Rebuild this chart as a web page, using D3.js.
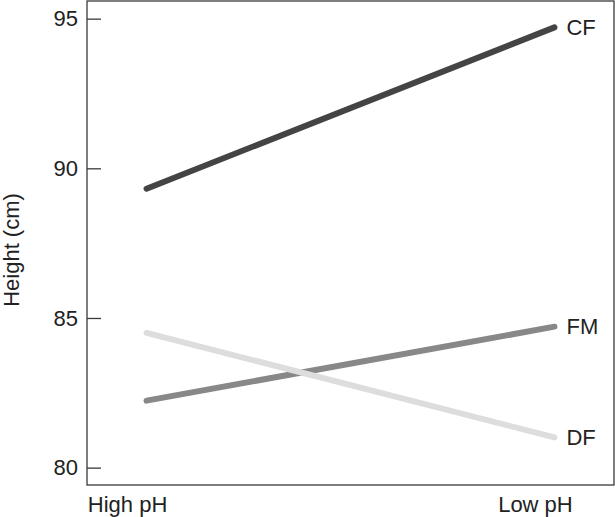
<!DOCTYPE html>
<html>
<head>
<meta charset="utf-8">
<script src="https://cdn.jsdelivr.net/npm/d3@7"></script>
<style>
  body { margin: 0; background: #fff; }
  svg { display: block; font-family: "Liberation Sans", Arial, sans-serif; }
</style>
</head>
<body>
<svg id="chart" width="615" height="517"></svg>
<script>
const conditions = ["High pH", "Low pH"];
const seriesNames = ["CF", "FM", "DF"];
const cfValues = [89.32, 94.71];
const fmValues = [82.24, 84.71];
const dfValues = [84.5, 81.01];
const yTicks = [80, 85, 90, 95];
const seriesColors = ["#444444", "#888888", "#dddddd"];

const series = [cfValues, fmValues, dfValues].map((values, i) => ({
    name: seriesNames[i],
    color: seriesColors[i],
    points: values.map((v, j) => ({cond: conditions[j], value: v}))
}));

const svg = d3.select("#chart");
const plotLeft = 87, plotRight = 614, plotTop = 1, plotBottom = 485;

const x = d3.scalePoint()
    .domain(conditions)
    .range([plotLeft, plotRight])
    .padding(0.146);

const y = d3.scaleLinear()
    .domain([79.42, 95.59])
    .range([plotBottom, plotTop]);

// frame
svg.append("rect")
    .attr("x", plotLeft)
    .attr("y", plotTop)
    .attr("width", plotRight - plotLeft)
    .attr("height", plotBottom - plotTop)
    .attr("fill", "none")
    .attr("stroke", "#3a3a3a")
    .attr("stroke-width", 1.3);

// y axis, ticks pointing inward
const yAxis = d3.axisRight(y)
    .tickValues(yTicks)
    .tickSize(14)
    .tickFormat(d3.format("d"));

const yg = svg.append("g")
    .attr("transform", `translate(${plotLeft},0)`)
    .call(yAxis);
yg.select(".domain").remove();
yg.selectAll(".tick line").attr("stroke", "#3a3a3a").attr("stroke-width", 1.3);
yg.selectAll(".tick text")
    .attr("x", -9)
    .attr("text-anchor", "end")
    .attr("fill", "#222")
    .style("font-size", "22px");

// y axis title
svg.append("text")
    .attr("transform", `translate(19, 250) rotate(-90)`)
    .attr("text-anchor", "middle")
    .attr("fill", "#222")
    .style("font-size", "22px")
    .text("Height (cm)");

// x labels
svg.selectAll(".xlabel")
    .data(conditions)
    .enter().append("text")
    .attr("class", "xlabel")
    .attr("x", d => x(d) - 19)
    .attr("y", 512)
    .attr("text-anchor", "middle")
    .attr("fill", "#222")
    .style("font-size", "22px")
    .text(d => d);

// lines
const line = d3.line()
    .x(d => x(d.cond))
    .y(d => y(d.value));

svg.selectAll(".series")
    .data(series)
    .enter().append("path")
    .attr("class", "series")
    .attr("d", d => line(d.points))
    .attr("fill", "none")
    .attr("stroke", d => d.color)
    .attr("stroke-width", 6)
    .attr("stroke-linecap", "round");

// series labels at line ends
svg.selectAll(".slabel")
    .data(series)
    .enter().append("text")
    .attr("class", "slabel")
    .attr("x", x(conditions[1]) + 12)
    .attr("y", d => y(d.points[1].value))
    .attr("dy", "0.35em")
    .attr("fill", "#222")
    .style("font-size", "22px")
    .text(d => d.name);
</script>
</body>
</html>
